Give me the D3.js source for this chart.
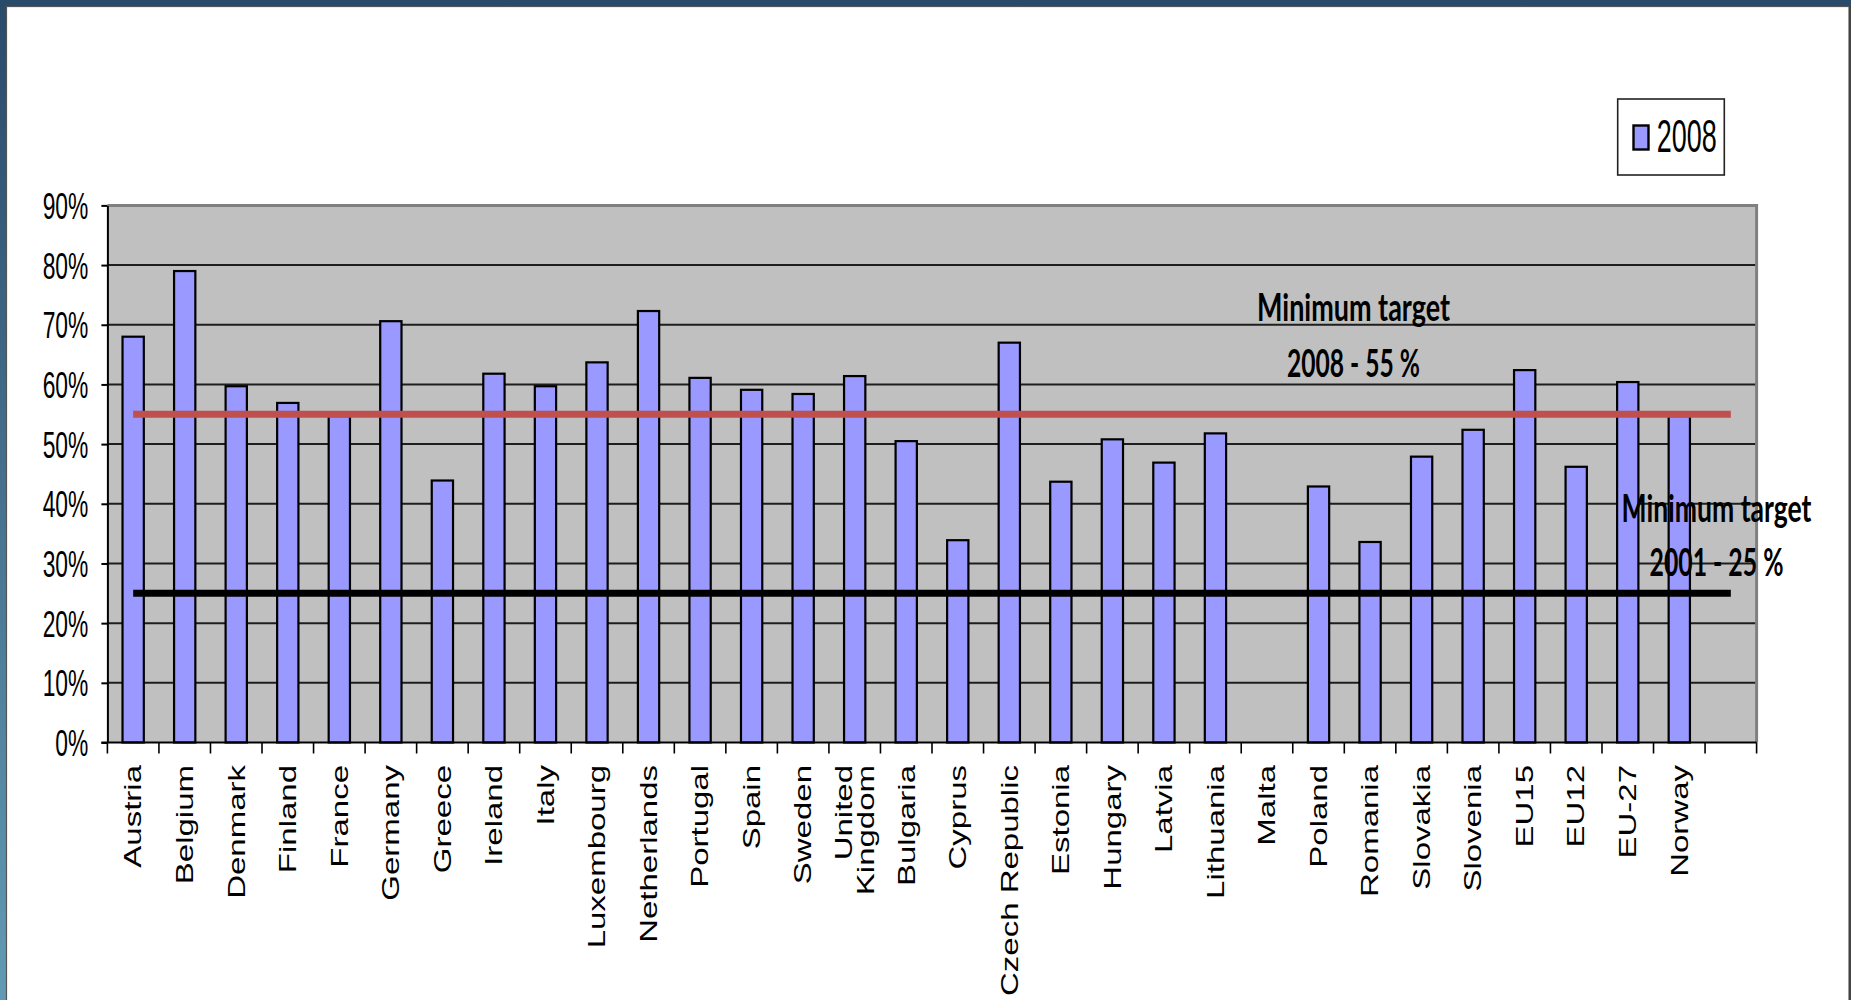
<!DOCTYPE html>
<html>
<head>
<meta charset="utf-8">
<script src="https://cdn.jsdelivr.net/npm/d3@7"></script>
<style>
  html, body { margin: 0; padding: 0; background: #ffffff; }
  svg { display: block; }
</style>
</head>
<body>
<svg id="chart" width="1851" height="1000"></svg>
<script>
// Share of collected waste (2008) by country, with the minimum targets.
const categories = [
  "Austria", "Belgium", "Denmark", "Finland", "France", "Germany", "Greece",
  "Ireland", "Italy", "Luxembourg", "Netherlands", "Portugal", "Spain", "Sweden",
  "United Kingdom", "Bulgaria", "Cyprus", "Czech Republic", "Estonia", "Hungary",
  "Latvia", "Lithuania", "Malta", "Poland", "Romania", "Slovakia", "Slovenia",
  "EU15", "EU12", "EU-27", "Norway"
];
const shares2008 = [
  68.0, 79.0, 59.7, 56.9, 54.7, 70.6, 43.9,
  61.8, 59.7, 63.7, 72.3, 61.1, 59.1, 58.4,
  61.4, 50.5, 33.9, 67.0, 43.7, 50.8,
  46.9, 51.8, null, 42.9, 33.6, 47.9, 52.4,
  62.4, 46.2, 60.4, 54.7
];
const yTickValues = [0, 10, 20, 30, 40, 50, 60, 70, 80, 90];
const target2008 = 55;
const target2001 = 25;
const legendLabel = "2008";
const note2008 = ["Minimum target", "2008 - 55 %"];
const note2001 = ["Minimum target", "2001 - 25 %"];

const svg = d3.select("#chart");

// page frame
const defs = svg.append("defs");
const grad = defs.append("linearGradient").attr("id", "frameGrad")
  .attr("x1", 0).attr("y1", 0).attr("x2", 0).attr("y2", 1);
grad.append("stop").attr("offset", "0%").attr("stop-color", "#2a4a6a");
grad.append("stop").attr("offset", "100%").attr("stop-color", "#629ab4");
svg.append("rect").attr("x", 0).attr("y", 0).attr("width", 1851).attr("height", 1000)
  .attr("fill", "url(#frameGrad)");
svg.append("rect").attr("x", 6.5).attr("y", 6.5).attr("width", 1842.5).attr("height", 1000)
  .attr("fill", "#ffffff").attr("stroke", "#555").attr("stroke-width", 1.2);
svg.append("rect").attr("x", 1849).attr("y", 6).attr("width", 2).attr("height", 994)
  .attr("fill", "#444");

// plot geometry
const plotL = 107.4, plotR = 1756.6, plotT = 205.4, plotB = 742.5;
const slots = categories.concat(["(end)"]);
const x = d3.scaleBand().domain(slots).range([plotL, plotR])
  .paddingInner(0.587).paddingOuter(0.2935).align(0.5);
const y = d3.scaleLinear().domain([0, 90]).range([plotB, plotT]);
const cx = d => x(d) + x.bandwidth() / 2;

// plot area background
svg.append("rect").attr("x", plotL).attr("y", plotT)
  .attr("width", plotR - plotL).attr("height", plotB - plotT).attr("fill", "#c0c0c0");

// horizontal gridlines
svg.append("g").selectAll("line")
  .data(yTickValues.filter(v => v > 0 && v < 90))
  .join("line")
  .attr("x1", plotL).attr("x2", plotR)
  .attr("y1", d => y(d)).attr("y2", d => y(d))
  .attr("stroke", "#1e1e1e").attr("stroke-width", 2);

// bars
svg.append("g").selectAll("rect")
  .data(categories.map((c, i) => ({ c, v: shares2008[i] })).filter(d => d.v != null))
  .join("rect")
  .attr("x", d => x(d.c)).attr("width", x.bandwidth())
  .attr("y", d => y(d.v)).attr("height", d => y(0) - y(d.v))
  .attr("fill", "#9999ff").attr("stroke", "#000").attr("stroke-width", 2.2);

// plot border (top and right)
svg.append("path")
  .attr("d", `M${plotL},${plotT}H${plotR}V${plotB}`)
  .attr("fill", "none").attr("stroke", "#808080").attr("stroke-width", 3);

// y axis
const yAxis = svg.append("g").attr("transform", `translate(${plotL},0)`)
  .call(d3.axisLeft(y).tickValues(yTickValues).tickSize(6).tickSizeOuter(0)
    .tickFormat(d => d + "%"));
yAxis.select(".domain").attr("stroke", "#000").attr("stroke-width", 2);
yAxis.selectAll(".tick line").attr("stroke", "#000").attr("stroke-width", 2);
yAxis.selectAll(".tick text")
  .attr("x", 0).attr("dy", null).attr("y", 13)
  .attr("transform", "translate(-19.1,0) scale(0.605,1)")
  .attr("font-family", "'Liberation Sans', Arial, sans-serif")
  .attr("font-size", 37.7).attr("fill", "#000").attr("text-anchor", "end");

// x axis line and category boundary ticks
svg.append("line").attr("x1", plotL - 6).attr("x2", plotR)
  .attr("y1", plotB).attr("y2", plotB)
  .attr("stroke", "#000").attr("stroke-width", 2.2);
svg.append("g").selectAll("line")
  .data(d3.range(slots.length + 1))
  .join("line")
  .attr("x1", i => plotL + i * x.step()).attr("x2", i => plotL + i * x.step())
  .attr("y1", plotB).attr("y2", plotB + 11)
  .attr("stroke", "#000").attr("stroke-width", 1.6);

// category labels (rotated)
const catLabels = svg.append("g")
  .attr("font-family", "'Liberation Sans', Arial, sans-serif")
  .attr("font-size", 33).attr("fill", "#000");
categories.forEach(c => {
  const lines = c === "United Kingdom" ? ["United", "Kingdom"] : [c];
  const t = catLabels.append("text")
    .attr("transform", `translate(${cx(c)},765) scale(0.7,1) rotate(-90)`)
    .attr("text-anchor", "end");
  lines.forEach((ln, k) => {
    const off = 0.358 + (k - (lines.length - 1) / 2) * 0.95;
    t.append("tspan").attr("x", 0).attr("y", 0).attr("dy", off + "em").text(ln);
  });
});

// target lines across every category slot
const targetLine = v => d3.line().x(d => cx(d)).y(() => y(v))(slots);
svg.append("path").attr("d", targetLine(target2008))
  .attr("fill", "none").attr("stroke", "#c0504d").attr("stroke-width", 7);
svg.append("path").attr("d", targetLine(target2001))
  .attr("fill", "none").attr("stroke", "#000").attr("stroke-width", 7);

// target notes
const noteFont = "Lato, 'Open Sans', sans-serif";
function note(lines, xc, baselines, widths) {
  lines.forEach((ln, k) => {
    svg.append("text")
      .attr("x", xc).attr("y", baselines[k])
      .attr("text-anchor", "middle")
      .attr("font-family", noteFont).attr("font-weight", 700)
      .attr("font-size", 38).attr("fill", "#000")
      .attr("textLength", widths[k]).attr("lengthAdjust", "spacingAndGlyphs")
      .text(ln);
  });
}
note(note2008, 1353.5, [321, 377], [193, 133]);
note(note2001, 1716.5, [521.5, 576], [190, 134]);

// legend
const lg = svg.append("g");
lg.append("rect").attr("x", 1617.7).attr("y", 99).attr("width", 106.6).attr("height", 76)
  .attr("fill", "#fff").attr("stroke", "#222").attr("stroke-width", 1.6);
lg.append("rect").attr("x", 1633.5).attr("y", 125.5).attr("width", 15).attr("height", 24)
  .attr("fill", "#9999ff").attr("stroke", "#000").attr("stroke-width", 2.4);
lg.append("text").attr("x", 1656.7).attr("y", 152)
  .attr("font-family", "'Liberation Sans', Arial, sans-serif").attr("font-size", 47)
  .attr("textLength", 60).attr("lengthAdjust", "spacingAndGlyphs")
  .attr("fill", "#000").text(legendLabel);
</script>
</body>
</html>
